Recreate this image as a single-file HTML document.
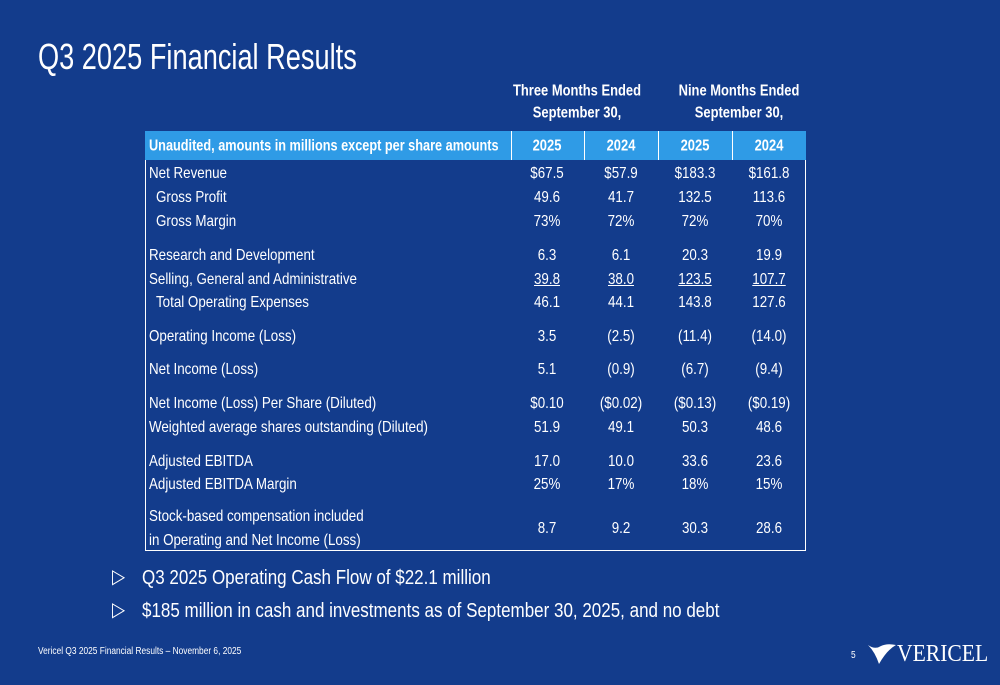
<!DOCTYPE html>
<html><head><meta charset="utf-8"><style>
body{margin:0;width:1000px;height:685px;background:#133c8c;overflow:hidden;position:relative;font-family:"Liberation Sans",sans-serif;color:#fff}
.t{position:absolute;white-space:nowrap;line-height:1}
.l{transform-origin:0 50%;transform:translateY(-50%) scaleX(0.835)}
.c{transform:translate(-50%,-50%) scaleX(0.835)}
.b{transform-origin:0 50%;transform:translateY(-50%) scaleX(0.85)}
</style></head><body>
<div class="t l" style="left:38px;top:57px;font-size:36px;transform:translateY(-50%) scaleX(0.755)">Q3 2025 Financial Results</div>
<div class="t c" style="left:577px;top:91px;font-size:15.5px;font-weight:bold">Three Months Ended</div>
<div class="t c" style="left:577px;top:113px;font-size:15.5px;font-weight:bold">September 30,</div>
<div class="t c" style="left:739px;top:91px;font-size:15.5px;font-weight:bold">Nine Months Ended</div>
<div class="t c" style="left:739px;top:113px;font-size:15.5px;font-weight:bold">September 30,</div>
<div id="tbl" style="position:absolute;left:145px;top:131px;width:659px;height:419px;border:1px solid #fff;border-top:none"></div>
<div style="position:absolute;left:145px;top:131px;width:661px;height:29px;background:#2f9be6"></div>
<div id="layer"></div>
<div class="t b" style="left:112px;top:577px;font-size:20px">▷</div>
<div class="t b" style="left:142px;top:578px;font-size:20px">Q3 2025 Operating Cash Flow of $22.1 million</div>
<div class="t b" style="left:112px;top:610px;font-size:20px">▷</div>
<div class="t b" style="left:142px;top:611px;font-size:20px">$185 million in cash and investments as of September 30, 2025, and no debt</div>
<div class="t l" style="left:38px;top:652px;font-size:10px">Vericel Q3 2025 Financial Results – November 6, 2025</div>
<div class="t l" style="left:851px;top:656px;font-size:10px">5</div>
<svg style="position:absolute;left:867px;top:642px" width="30" height="24" viewBox="0 0 30 24"><path d="M1 3 Q8 8 14 4 Q20 1 29 3 Q20 8 12 22 Q8 10 1 3Z" fill="#fff"/></svg>
<div class="t l" style="left:897px;top:654px;font-size:24px;font-family:'Liberation Serif',serif;transform:translateY(-50%) scaleX(0.9)">VERICEL</div>
<script>
const cols=[547,621,695,769];
const headers=["2025","2024","2025","2024"];
const labels=["Net Revenue"," Gross Profit"," Gross Margin","Research and Development","Selling, General and Administrative"," Total Operating Expenses","Operating Income (Loss)","Net Income (Loss)","Net Income (Loss) Per Share (Diluted)","Weighted average shares outstanding (Diluted)","Adjusted EBITDA","Adjusted EBITDA Margin"];
const rowY=[174,198,222,256,280,303,337,370,404,428,462,485];
const values=[["$67.5","$57.9","$183.3","$161.8"],["49.6","41.7","132.5","113.6"],["73%","72%","72%","70%"],["6.3","6.1","20.3","19.9"],["39.8","38.0","123.5","107.7"],["46.1","44.1","143.8","127.6"],["3.5","(2.5)","(11.4)","(14.0)"],["5.1","(0.9)","(6.7)","(9.4)"],["$0.10","($0.02)","($0.13)","($0.19)"],["51.9","49.1","50.3","48.6"],["17.0","10.0","33.6","23.6"],["25%","17%","18%","15%"]];
const sbc=["8.7","9.2","30.3","28.6"];
const L=document.getElementById('layer');
function add(txt,x,y,cls,size,extra){const d=document.createElement('div');d.className='t '+cls;d.textContent=txt;d.style.left=x+'px';d.style.top=y+'px';d.style.fontSize=size+'px';if(extra)d.style.cssText+=extra;L.appendChild(d);return d;}
let h=add("Unaudited, amounts in millions except per share amounts",149,146,'l',15.5,'font-weight:bold;transform:translateY(-50%) scaleX(0.82)');


[511,584,658,732].forEach((x,i)=>{const s=document.createElement('div');s.style.cssText='position:absolute;left:'+x+'px;top:131px;width:1px;height:29px;background:#fff';


L.appendChild(s);});
headers.forEach((t,i)=>{const d=add(t,cols[i],146,'c',15.5,'font-weight:bold');

});
labels.forEach((t,r)=>{const lead=t.startsWith(' ');const d=add(t.trim(),lead?156:149,rowY[r],'l',16);


values[r].forEach((v,i)=>{const e=add(v,cols[i],rowY[r],'c',16,r===4?'text-decoration:underline':'');

});});
let a=add("Stock-based compensation included",149,517,'l',16);


let b=add("in Operating and Net Income (Loss)",149,541,'l',16);


sbc.forEach((v,i)=>{const e=add(v,cols[i],529,'c',16);

});
</script>
</body></html>
